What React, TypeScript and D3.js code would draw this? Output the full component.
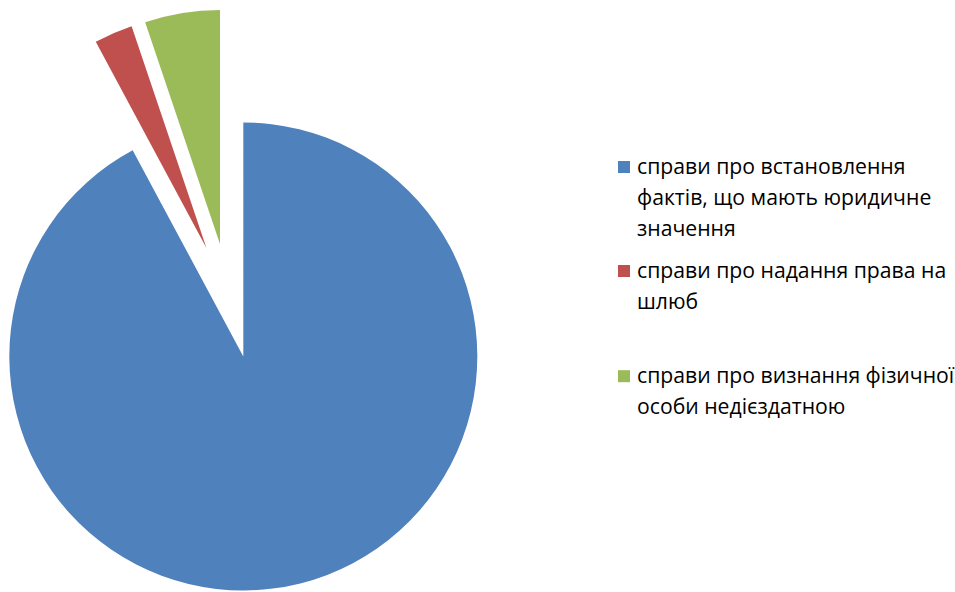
import React from "react";
import * as d3 from "d3";

const categories = [
  "справи про встановлення фактів, що мають юридичне значення",
  "справи про надання права на шлюб",
  "справи про визнання фізичної особи недієздатною",
];
const values = [92.16, 2.66, 5.18];
const legendLines = [
  ["справи про встановлення", "фактів, що мають юридичне", "значення"],
  ["справи про надання права на", "шлюб"],
  ["справи про визнання фізичної", "особи недієздатною"],
];
const colors = ["#4F81BD", "#C0504D", "#9BBB59"];

const W = 955;
const H = 592;
const cx = 229.3;
const cy = 300.7;
const radius = 234;
const explode = 57.5;

const legendX = 618;
const legendSquare = 12;
const legendTextX = 637;
const legendBaselines = [173.5, 277.5, 382.7];
const lineHeight = 31;

export default function App() {
  const pie = d3.pie<number>().sort(null).startAngle(0).endAngle(2 * Math.PI);
  const arcs = pie(values);
  const arcGen = d3.arc<d3.PieArcDatum<number>>().innerRadius(0).outerRadius(radius);

  return (
    <svg
      width={W}
      height={H}
      style={{ position: "absolute", left: 0, top: 0 }}
      fontFamily="'Open Sans', sans-serif"
    >
      <rect width={W} height={H} fill="#fff" />
      <g transform={`translate(${cx},${cy})`}>
        {arcs.map((a, i) => {
          const mid = (a.startAngle + a.endAngle) / 2;
          const dx = Math.sin(mid) * explode;
          const dy = -Math.cos(mid) * explode;
          return (
            <path
              key={categories[i]}
              d={arcGen(a) || ""}
              fill={colors[i]}
              transform={`translate(${dx},${dy})`}
            />
          );
        })}
      </g>
      <g>
        {legendLines.map((lines, i) => (
          <g key={categories[i]}>
            <rect
              x={legendX}
              y={legendBaselines[i] - legendSquare - 0.5}
              width={legendSquare}
              height={legendSquare}
              fill={colors[i]}
            />
            <text x={legendTextX} y={legendBaselines[i]} fontSize={21.2} fill="#000">
              {lines.map((l, j) => (
                <tspan key={j} x={legendTextX} y={legendBaselines[i] + j * lineHeight}>
                  {l}
                </tspan>
              ))}
            </text>
          </g>
        ))}
      </g>
    </svg>
  );
}
